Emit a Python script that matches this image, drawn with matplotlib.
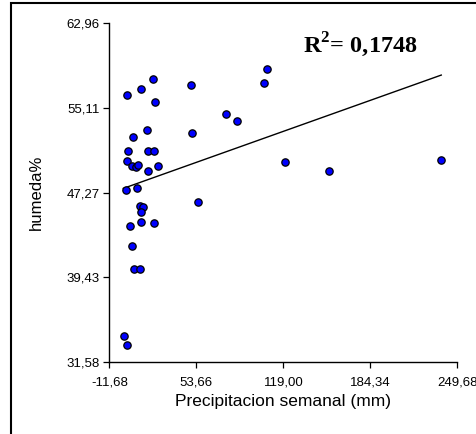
import matplotlib
matplotlib.use("Agg")
import matplotlib.pyplot as plt
from matplotlib.patches import Rectangle

# precipitation (mm) vs humidity (%)
precip = [1.4, 12.1, 20.9, 22.9, 49.4, 104.5, 106.8, 76.0, 84.4, 50.4,
          16.4, 6.1, 2.6, 17.4, 21.9, 1.4, 5.1, 8.1, 10.1, 17.6,
          25.1, 120.5, 153.3, 237.2, 0.6, 8.9, 54.9, 11.4, 13.9, 12.4,
          12.4, 21.9, 3.9, 5.1, 6.9, 11.4, -0.4, 1.4]
humedad = [56.31, 56.86, 57.79, 55.68, 57.23, 57.42, 58.71, 54.52, 53.87, 52.78,
           53.09, 52.41, 51.11, 51.11, 51.11, 50.19, 49.75, 49.66, 49.79, 49.29,
           49.75, 50.06, 49.26, 50.31, 47.52, 47.71, 46.36, 45.99, 45.89, 45.46,
           44.56, 44.41, 44.13, 42.31, 40.20, 40.20, 33.93, 33.13]

# regression line as drawn in the chart
fit_x = [-1.2, 237.6]
fit_y = [47.65, 58.16]

xticks = [-11.68, 53.66, 119.00, 184.34, 249.68]
yticks = [31.58, 39.43, 47.27, 55.11, 62.96]
r2_text = "0,1748"

plt.rcParams['font.family'] = ['Liberation Sans', 'DejaVu Sans']
plt.rcParams['mathtext.fontset'] = 'custom'
plt.rcParams['mathtext.rm'] = 'Liberation Serif:bold'
plt.rcParams['mathtext.bf'] = 'Liberation Serif:bold'

fig = plt.figure(figsize=(4.77, 4.34), dpi=100)
ax = fig.add_axes([0.2292, 0.1666, 0.7296, 0.7797])

ax.plot(fit_x, fit_y, color='black', lw=1.0, zorder=2)

ax.scatter(precip, humedad, s=28, c='#0000ff', edgecolors='black',
           linewidths=0.9, zorder=3, clip_on=False)

ax.set_xlim(xticks[0], xticks[-1])
ax.set_ylim(yticks[0], yticks[-1])
ax.set_xticks(xticks)
ax.set_yticks(yticks)
ax.set_xticklabels([f"{v:.2f}".replace('.', ',') for v in xticks])
ax.set_yticklabels([f"{v:.2f}".replace('.', ',') for v in yticks])
ax.tick_params(axis='both', direction='out', length=4.5, width=0.9,
               labelsize=9.5, colors='black')
ax.tick_params(axis='y', pad=2.5)
ax.tick_params(axis='x', pad=6)

for s in ['top', 'right']:
    ax.spines[s].set_visible(False)
for s in ['left', 'bottom']:
    ax.spines[s].set_linewidth(1.0)

ax.set_xlabel('Precipitacion semanal (mm)', fontsize=12.5, labelpad=4)
ax.set_ylabel('humeda%', fontsize=12, labelpad=16)

ax.text(0.72, 0.936, r"R$^{2}$= " + r2_text, transform=ax.transAxes,
        ha='center', va='center', fontsize=17.5, fontweight='bold',
        family='Liberation Serif')

# outer frame
fig.patches.append(Rectangle((11 / 477, -0.1), 1.2, 1.1 - 3 / 434,
                             transform=fig.transFigure, fill=False,
                             edgecolor='black', lw=1.5))

fig.savefig('out.png', dpi=100)
